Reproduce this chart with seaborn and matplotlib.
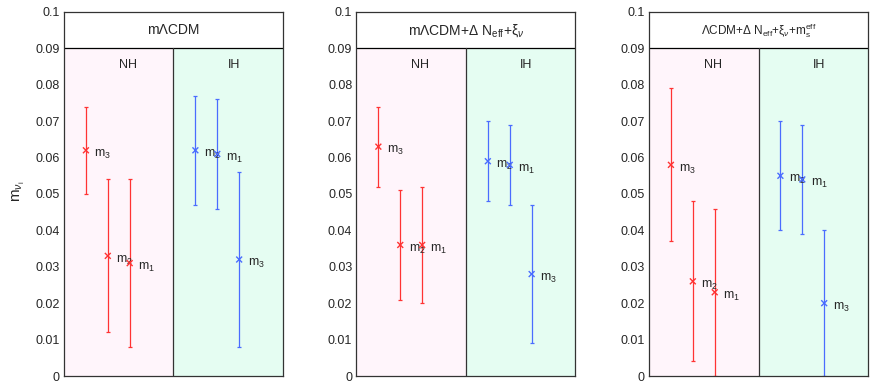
import numpy as np
import pandas as pd
import seaborn as sns
import matplotlib.pyplot as plt

# panel titles
titles = [
    "m\u039bCDM",
    "m\u039bCDM+\u0394 N$_{\\mathrm{eff}}$+\u03be$_{\\nu}$",
    "\u039bCDM+\u0394 N$_{\\mathrm{eff}}$+\u03be$_{\\nu}$+m$_{\\mathrm{s}}^{\\mathrm{eff}}$",
]
title_sizes = [10, 10, 8.5]

# order of points in each panel: NH (m3, m2, m1) then IH (m2, m1, m3)
labels = ["3", "2", "1", "2", "1", "3"]
hierarchy = ["NH", "NH", "NH", "IH", "IH", "IH"]
xpos = [1, 2, 3, 6, 7, 8]

# central values and 95% ranges per panel
mass_1 = [0.062, 0.033, 0.031, 0.062, 0.061, 0.032]
low_1 = [0.050, 0.012, 0.008, 0.047, 0.046, 0.008]
high_1 = [0.074, 0.054, 0.054, 0.077, 0.076, 0.056]

mass_2 = [0.063, 0.036, 0.036, 0.059, 0.058, 0.028]
low_2 = [0.052, 0.021, 0.020, 0.048, 0.047, 0.009]
high_2 = [0.074, 0.051, 0.052, 0.070, 0.069, 0.047]

mass_3 = [0.058, 0.026, 0.023, 0.055, 0.054, 0.020]
low_3 = [0.037, 0.004, 0.000, 0.040, 0.039, 0.000]
high_3 = [0.079, 0.048, 0.046, 0.070, 0.069, 0.040]

panels = [(mass_1, low_1, high_1), (mass_2, low_2, high_2), (mass_3, low_3, high_3)]

sns.set_style("white")
plt.rcParams["font.family"] = ["Liberation Sans", "DejaVu Sans"]
plt.rcParams["mathtext.fontset"] = "custom"
plt.rcParams["mathtext.rm"] = "Liberation Sans"
plt.rcParams["mathtext.it"] = "Liberation Sans:italic"
plt.rcParams["mathtext.bf"] = "Liberation Sans:bold"

colors = {"NH": "#ff3333", "IH": "#4a6cff"}
bg = {"NH": "#fff5fb", "IH": "#e5fdf2"}

fig = plt.figure(figsize=(8.72, 3.82), dpi=100)
lefts = [0.0734, 0.4088, 0.7443]

for i, (mass, low, high) in enumerate(panels):
    ax = fig.add_axes([lefts[i], 0.0157, 0.2511, 0.953])
    df = pd.DataFrame({"x": xpos, "m": mass, "lo": low, "hi": high,
                       "h": hierarchy, "lab": labels})
    ax.axvspan(0, 5, ymin=0, ymax=0.9, color=bg["NH"], lw=0, zorder=0)
    ax.axvspan(5, 10, ymin=0, ymax=0.9, color=bg["IH"], lw=0, zorder=0)
    ax.axhline(0.09, color="black", lw=0.9, zorder=1)
    ax.plot([5, 5], [0, 0.09], color="#333333", lw=0.9, zorder=1)

    for _, r in df.iterrows():
        ax.errorbar(r["x"], r["m"], yerr=[[r["m"] - r["lo"]], [r["hi"] - r["m"]]],
                    fmt="none", ecolor=colors[r["h"]], elinewidth=0.9,
                    capsize=1.2, capthick=0.9, zorder=2)
        ax.annotate("m$_{" + r["lab"] + "}$", (r["x"], r["m"]),
                    xytext=(6, -3), textcoords="offset points",
                    fontsize=9, ha="left", va="center")
    sns.scatterplot(data=df, x="x", y="m", hue="h", palette=colors, marker="x",
                    s=18, linewidth=1.0, legend=False, ax=ax, zorder=3)

    ax.text(2.9, 0.0853, "NH", ha="center", va="center", fontsize=9)
    ax.text(7.75, 0.0853, "IH", ha="center", va="center", fontsize=9)
    ax.text(5, 0.095, titles[i], ha="center", va="center", fontsize=title_sizes[i])

    ax.set_xlim(0, 10)
    ax.set_ylim(0, 0.1)
    ax.set_xticks([])
    ax.set_yticks(np.arange(0, 0.101, 0.01))
    ax.set_yticklabels(["0", "0.01", "0.02", "0.03", "0.04", "0.05",
                        "0.06", "0.07", "0.08", "0.09", "0.1"], fontsize=9)
    ax.tick_params(axis="y", length=0, pad=3)
    ax.set_xlabel("")
    ax.set_ylabel("")
    for s in ax.spines.values():
        s.set_color("#333333")
        s.set_linewidth(0.9)

fig.text(0.022, 0.5, "m$_{\\nu_{\\mathrm{i}}}$", rotation=90, ha="center",
         va="center", fontsize=11)

fig.savefig("out.png", dpi=100)
